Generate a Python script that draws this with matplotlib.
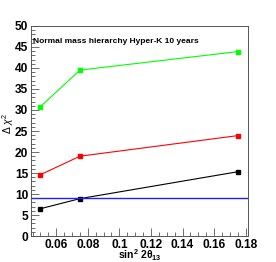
import numpy as np
import matplotlib
matplotlib.use('Agg')
import matplotlib.pyplot as plt
from matplotlib.ticker import MultipleLocator

plt.rcParams['font.family'] = ['Liberation Sans', 'DejaVu Sans']
plt.rcParams['mathtext.fontset'] = 'custom'
plt.rcParams['mathtext.rm'] = 'Liberation Sans'
plt.rcParams['mathtext.it'] = 'Liberation Sans:italic'
plt.rcParams['mathtext.bf'] = 'Liberation Sans:bold'

# sin^2 2theta13 values and delta chi^2 for three scenarios
s2t13 = [0.05, 0.075, 0.175]
chi2_green = [30.8, 39.5, 43.9]
chi2_red = [14.6, 19.0, 23.9]
chi2_black = [6.5, 8.9, 15.3]
chi2_cut = 9.0

title = 'Normal mass hierarchy Hyper-K 10 years'

fig = plt.figure(figsize=(2.76, 2.62), dpi=100)
ax = fig.add_axes([0.1123, 0.0992, 0.7863, 0.8016])

ax.plot(s2t13, chi2_green, '-s', color='#00ff00', lw=0.8, ms=3.5)
ax.plot(s2t13, chi2_red, '-s', color='#ff0000', lw=0.8, ms=3.5)
ax.plot(s2t13, chi2_black, '-s', color='black', lw=0.8, ms=3.5)
ax.axhline(chi2_cut, color='#2020ff', lw=1.0)

ax.set_xlim(0.044, 0.1815)
ax.set_ylim(0, 50)
ax.xaxis.set_major_locator(MultipleLocator(0.02))
ax.xaxis.set_minor_locator(MultipleLocator(0.005))
ax.yaxis.set_major_locator(MultipleLocator(5))
ax.yaxis.set_minor_locator(MultipleLocator(1))
ax.set_xticks([0.06, 0.08, 0.1, 0.12, 0.14, 0.16, 0.18])
ax.set_xticklabels(['0.06', '0.08', '0.1', '0.12', '0.14', '0.16', '0.18'])
ax.tick_params(which='both', direction='in', top=False, right=False,
               labelsize=8.6, pad=2, width=0.6, color='#555555')
ax.tick_params(which='major', length=6)
ax.tick_params(which='minor', length=3)
for lab in ax.get_xticklabels() + ax.get_yticklabels():
    lab.set_fontweight('bold')
for sp in ax.spines.values():
    sp.set_linewidth(0.7)
    sp.set_color('#555555')

ax.text(0.01, 0.924, title, transform=ax.transAxes, fontsize=6.0,
        fontweight='bold', ha='left', va='center')
fig.text(0.505, 0.027, r'$\mathbf{sin^{2}\ 2\theta_{13}}$', fontsize=7.5,
         ha='center', va='center')
fig.text(0.03, 0.53, r'$\Delta\ \chi^{2}$', fontsize=7.5, rotation=90,
         ha='center', va='center')

fig.savefig('out.png', dpi=100)
